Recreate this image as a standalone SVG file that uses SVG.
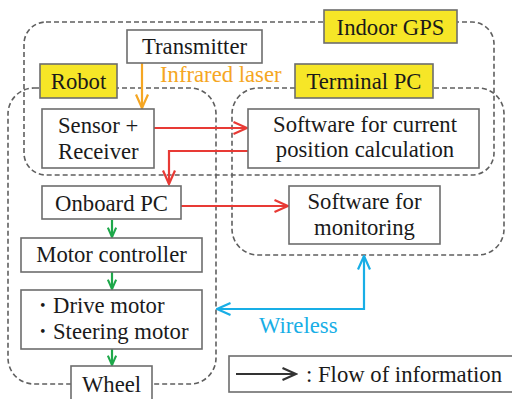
<svg xmlns="http://www.w3.org/2000/svg" width="512" height="399" viewBox="0 0 512 399">
<style>
text{font-family:"Liberation Serif","Times New Roman",Times,serif;font-size:22.7px;fill:#1a1a1a}
.c{text-anchor:middle}
.box{fill:#fff;stroke:#6d6d6d;stroke-width:1.6}
.lab{fill:#f6e627;stroke:#6d6d6d;stroke-width:1.6}
.dash{fill:none;stroke:#5f5f5f;stroke-width:1.6;stroke-dasharray:5 3}
.a{fill:none;stroke-width:2.2}
.h{fill:none;stroke-width:2.2;stroke-linejoin:miter}
</style>
<defs>
<marker id="hr" viewBox="0 0 16 14" refX="14.5" refY="7" markerWidth="16" markerHeight="14" markerUnits="userSpaceOnUse" orient="auto"><path class="h" d="M1,1 L14.5,7 L1,13" stroke="#e83a35"/></marker>
<marker id="ho" viewBox="0 0 16 14" refX="14.5" refY="7" markerWidth="16" markerHeight="14" markerUnits="userSpaceOnUse" orient="auto"><path class="h" d="M1,1 L14.5,7 L1,13" stroke="#f5a623"/></marker>
<marker id="hg" viewBox="0 0 16 14" refX="14.5" refY="7" markerWidth="11" markerHeight="10" markerUnits="userSpaceOnUse" orient="auto"><path d="M1,1 L14.5,7 L1,13" fill="none" stroke="#1ea84a" stroke-width="3"/></marker>
<marker id="hb" viewBox="0 0 16 14" refX="14.5" refY="7" markerWidth="16" markerHeight="14" markerUnits="userSpaceOnUse" orient="auto-start-reverse"><path class="h" d="M1,1 L14.5,7 L1,13" stroke="#18aee6"/></marker>
<marker id="hk" viewBox="0 0 16 14" refX="14.5" refY="7" markerWidth="16" markerHeight="14" markerUnits="userSpaceOnUse" orient="auto"><path class="h" d="M1,1 L14.5,7 L1,13" stroke="#333"/></marker>
</defs>

<g id="groups">
<rect class="dash" x="24" y="22" width="470" height="153" rx="22"/>
<rect class="dash" x="8" y="88" width="208" height="296" rx="26"/>
<rect class="dash" x="232" y="88" width="272" height="167" rx="26"/>
</g>

<g id="connectors">
<path class="a" stroke="#f5a623" d="M142,63 V108" marker-end="url(#ho)"/>
<path class="a" stroke="#e83a35" d="M154,128 H247" marker-end="url(#hr)"/>
<path class="a" stroke="#e83a35" d="M248,151 H169 V184" marker-end="url(#hr)"/>
<path class="a" stroke="#e83a35" d="M181,206 H288" marker-end="url(#hr)"/>
<path class="a" stroke="#1ea84a" d="M112,220 V237" marker-end="url(#hg)"/>
<path class="a" stroke="#1ea84a" d="M112,272 V289" marker-end="url(#hg)"/>
<path class="a" stroke="#1ea84a" d="M112,349 V365" marker-end="url(#hg)"/>
<path class="a" stroke="#18aee6" d="M217,309 H364 V256" marker-start="url(#hb)" marker-end="url(#hb)"/>
</g>

<g id="indoor-gps"><rect class="lab" x="324" y="10" width="133" height="33"/><text class="c" x="390.5" y="35">Indoor GPS</text></g>
<g id="transmitter"><rect class="box" x="127" y="30" width="135" height="33"/><text class="c" x="194.5" y="54">Transmitter</text></g>
<g id="robot"><rect class="lab" x="40" y="64" width="77" height="34"/><text class="c" x="78.5" y="89">Robot</text></g>
<g id="terminal-pc"><rect class="lab" x="295" y="64" width="138" height="34"/><text class="c" x="364" y="89">Terminal PC</text></g>
<g id="infrared"><text x="160" y="82" style="fill:#f5a623">Infrared laser</text></g>
<g id="sensor"><rect class="box" x="42" y="109" width="112" height="59"/><text x="58" y="133">Sensor +</text><text x="58" y="159">Receiver</text></g>
<g id="software-position"><rect class="box" x="248" y="109" width="231" height="59"/><text class="c" x="365" y="132">Software for current</text><text class="c" x="365" y="157">position calculation</text></g>
<g id="onboard-pc"><rect class="box" x="42" y="186" width="139" height="33"/><text class="c" x="111.5" y="211">Onboard PC</text></g>
<g id="software-monitoring"><rect class="box" x="289" y="186" width="151" height="58"/><text class="c" x="364.5" y="209">Software for</text><text class="c" x="364.5" y="235">monitoring</text></g>
<g id="motor-controller"><rect class="box" x="21" y="238" width="181" height="34"/><text class="c" x="111.5" y="262">Motor controller</text></g>
<g id="motors"><rect class="box" x="21" y="290" width="181" height="59"/><text x="31" y="313">・<tspan x="53">Drive motor</tspan></text><text x="31" y="339">・<tspan x="53">Steering motor</tspan></text></g>
<g id="wheel"><rect class="box" x="71" y="366" width="81" height="40"/><text class="c" x="111.5" y="392">Wheel</text></g>
<g id="wireless"><text x="259" y="333" style="fill:#18aee6">Wireless</text></g>
<g id="legend"><rect class="box" x="229" y="356" width="290" height="36"/><path class="a" stroke="#333" d="M236,374 H296" marker-end="url(#hk)"/><text x="306" y="382">: Flow of information</text></g>
</svg>
